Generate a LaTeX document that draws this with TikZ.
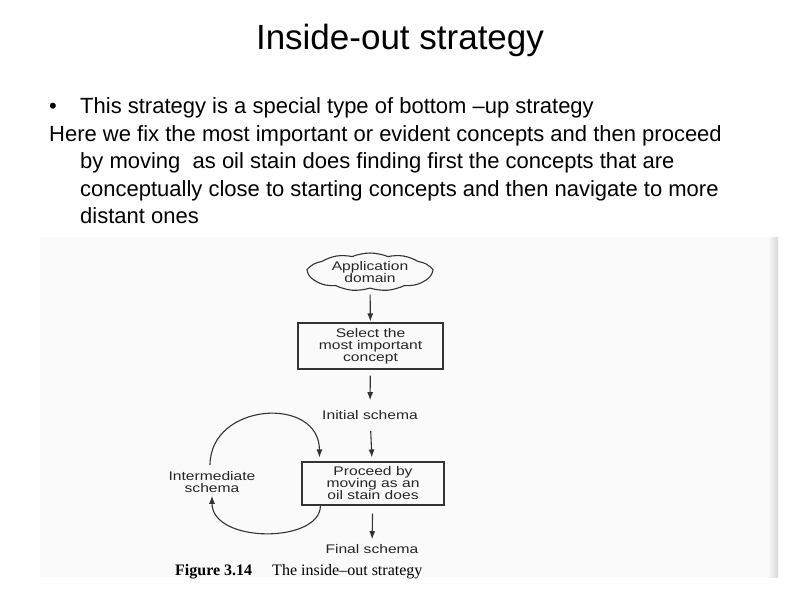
\documentclass[tikz,border=0pt]{standalone}
\usepackage{fontspec}
\setmainfont{Liberation Sans}
\newfontfamily\figfont[FakeStretch=1.25]{Liberation Sans}
\newfontfamily\capfont[Ligatures=TeX]{Liberation Serif}
\usetikzlibrary{arrows.meta,shapes.symbols,calc}

\begin{document}
\begin{tikzpicture}
        [   x = 1pt
        ,   y = -1pt
        ,   slidetext/.style =
            {   inner sep = 0pt
            ,   align = left
            ,   font = \fontsize{22}{27.5}\selectfont
            }
        ,   stepbox/.style =
            {   draw = black!80
            ,   line width = 1.1pt
            ,   align = center
            ,   inner sep = 0pt
            ,   text = black!85
            ,   font = \figfont\fontsize{12.5}{12}\selectfont
            }
        ,   domcloud/.style =
            {   stepbox
            ,   cloud
            ,   cloud puffs = 11
            ,   cloud puff arc = 45
            ,   cloud ignores aspect
            ,   minimum width = 124pt
            ,   minimum height = 38pt
            }
        ,   flowtext/.style =
            {   align = center
            ,   inner sep = 2pt
            ,   text = black!85
            ,   font = \figfont\fontsize{12.5}{12}\selectfont
            }
        ,   flow/.style =
            {   -{Latex[length=8pt,width=6pt]}
            ,   draw = black!80
            ,   line width = 1.1pt
            }
        ]
        \useasboundingbox (0,0) rectangle (800,600);

        % slide text
        \node [font = \fontsize{35}{40}\selectfont] (title) at (400,40) {Inside-out strategy};
        \node [slidetext, anchor = base] (dot) at (53,113) {\textbullet};
        \node [slidetext, anchor = base west] (point) at (80,113)
            {This strategy is a special type of bottom –up strategy};
        \node [slidetext, anchor = base west] (para) at (49,141)
            {Here we fix the most important or evident concepts and then proceed};
        \node [slidetext, anchor = north west] (paramore) at (80,152.5)
            {by moving\ \ as oil stain does finding first the concepts that are\\
             conceptually close to starting concepts and then navigate to more\\
             distant ones};

        % scanned figure
        \fill [gray!4] (40,237) rectangle (778,577);
        \shade [left color = gray!4, right color = gray!30] (768,237) rectangle (778,577);

        \node [domcloud] (dom) at (370,272) {Application\\domain};
        \node [stepbox, minimum width = 145pt, minimum height = 46pt] (sel) at (370.5,346)
            {Select the\\most important\\concept};
        \node [flowtext] (init) at (370,415) {Initial schema};
        \node [stepbox, minimum width = 142pt, minimum height = 43pt] (proc) at (373,483.5)
            {Proceed by\\moving as an\\oil stain does};
        \node [flowtext] (fin) at (372,549) {Final schema};
        \node [flowtext] (inter) at (212,482) {Intermediate\\schema};

        \draw [flow, shorten <= 6pt, shorten >= 1pt] (dom) -- (sel);
        \draw [flow, shorten <= 6pt, shorten >= 8pt] (sel) -- (init);
        \draw [flow, shorten <= 9pt, shorten >= 4pt] (init) -- (proc);
        \draw [flow, shorten <= 8pt, shorten >= 3pt] (proc) -- (fin);

        \coordinate (loopout) at ($(inter.north)+(-2,-4)$);
        \coordinate (loopin) at ($(inter.south)+(0,1)$);
        \draw [flow] (loopout) .. controls +(0,-63) and +(0,-62) .. ($(proc.north west)+(18,-4)$);
        \draw [flow] ($(proc.south west)+(19,0)$) .. controls +(0,38) and +(0,48) .. (loopin);

        \node [anchor = base west, inner sep = 0pt, font = \capfont\fontsize{16}{18}\selectfont] (cap) at (175,575)
            {\textbf{Figure 3.14}\hspace{20pt}The inside–out strategy};
\end{tikzpicture}
\end{document}
